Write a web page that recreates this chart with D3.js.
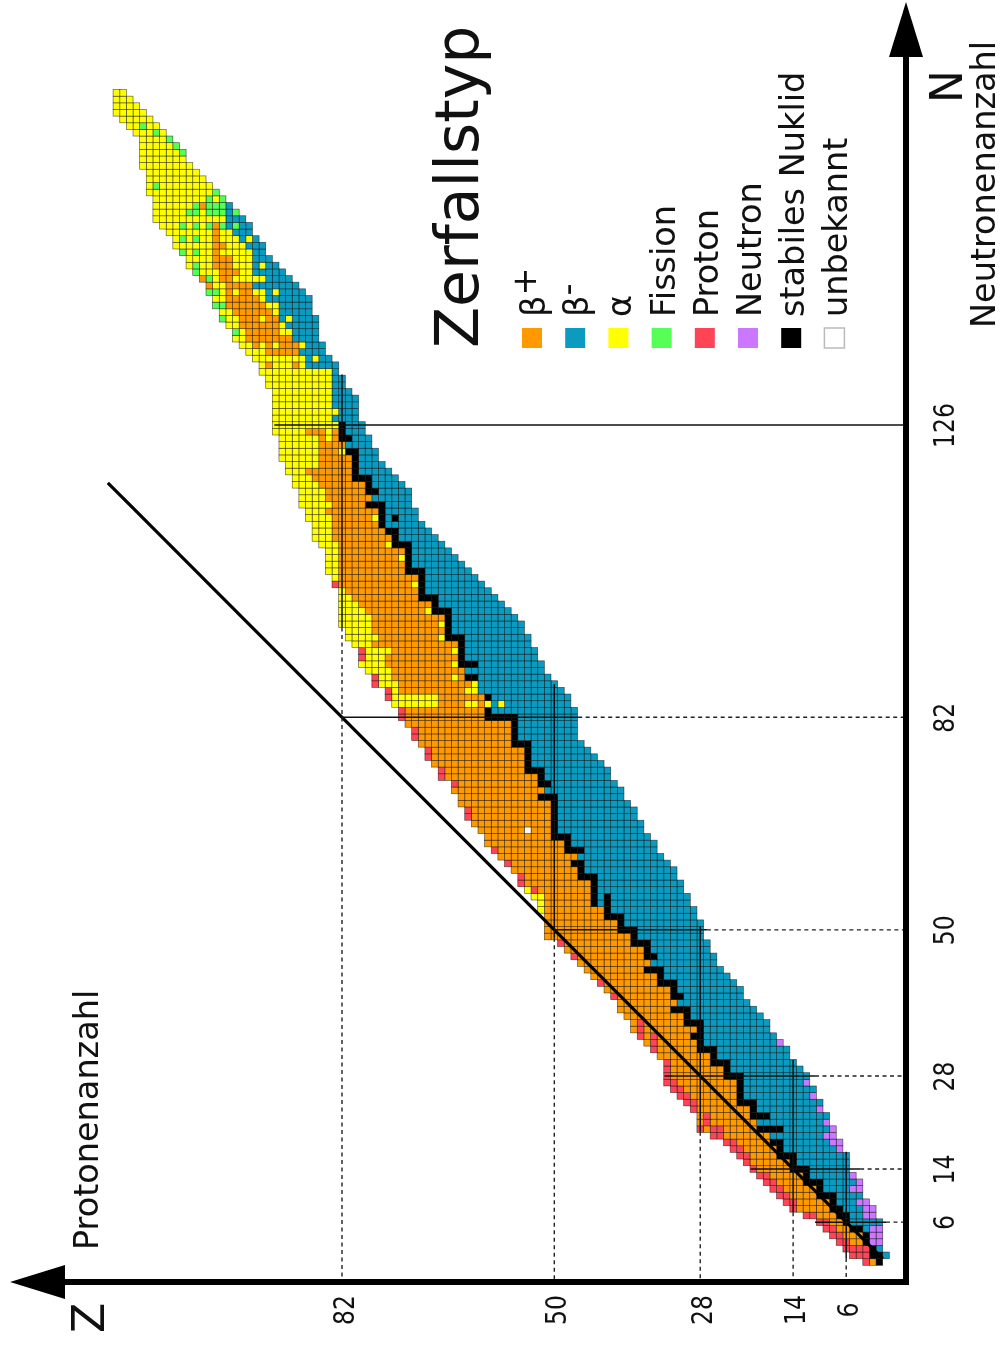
<!DOCTYPE html>
<html>
<head>
<meta charset="utf-8">
<title>Zerfallstyp</title>
<script src="https://cdn.jsdelivr.net/npm/d3@7/dist/d3.min.js"></script>
<style>
html, body { margin: 0; padding: 0; background: #fff; }
svg { display: block; filter: blur(0.45px); }
text { font-family: "DejaVu Sans", sans-serif; fill: #111; }
</style>
</head>
<body>
<script>
//lowest proton number in each row, index = neutron number
var zLow = [
    1,0,1,1,1,1,1,2,2,3,
    4,4,4,5,6,6,6,7,7,8,
    8,9,9,10,10,11,11,12,12,13,
    14,15,15,16,17,18,18,19,20,21,
    22,22,23,24,25,26,26,27,27,28,
    28,28,29,29,30,30,31,31,32,32,
    33,34,35,35,36,37,37,38,38,39,
    40,40,41,42,42,43,44,45,46,47,
    47,47,47,47,48,48,49,50,51,52,
    52,53,53,54,54,55,55,56,57,58,
    59,60,61,62,63,64,65,66,67,68,
    69,70,71,71,72,72,72,73,74,75,
    76,77,77,78,78,79,79,80,80,80,
    80,81,82,82,83,83,84,85,85,86,
    86,86,86,87,87,87,88,89,90,91,
    92,93,94,94,95,96,96,97,98,99,
    100,101,102,103,104,105,106,106,107,108,
    109,110,111,112,113,114,115
];
//highest proton number in each row
var zHigh = [
    3,5,6,7,8,9,10,12,14,15,
    16,17,18,19,20,21,22,23,24,26,
    28,28,28,29,30,31,32,33,33,33,
    33,34,35,36,37,38,38,39,40,40,
    41,42,43,44,45,46,47,48,49,51,
    51,51,51,52,52,53,54,55,55,56,
    57,58,59,60,60,61,62,63,63,64,
    64,65,65,67,67,68,69,69,70,71,
    71,72,73,73,74,75,75,77,77,78,
    79,79,79,80,81,81,82,82,82,82,
    82,82,83,83,84,84,84,84,85,86,
    86,86,87,87,88,88,88,89,89,90,
    90,91,91,91,91,92,92,92,92,92,
    92,92,93,93,94,94,95,96,97,98,
    98,99,100,100,101,101,102,102,103,104,
    105,105,106,107,107,108,109,110,110,110,
    110,111,111,111,111,112,112,112,112,112,
    113,114,115,116,116,116,116
];
//highest proton number that decays by beta minus in each row
var betaMinusTop = [
    0,0,1,2,2,3,5,5,6,7,
    7,9,9,11,11,13,13,15,15,17,
    15,19,17,19,19,21,21,21,21,23,
    23,25,25,27,27,27,27,29,29,31,
    30,31,31,33,33,35,34,35,35,37,
    37,39,39,41,43,43,43,43,43,45,
    45,46,45,47,47,49,49,49,49,49,
    49,51,50,51,51,53,53,53,53,55,
    55,55,55,59,59,59,61,61,61,63,
    61,63,63,63,63,65,65,65,65,67,
    67,69,69,69,69,71,71,71,71,73,
    73,75,75,75,75,77,76,77,77,79,
    79,79,79,81,80,81,81,83,83,83,
    83,83,83,83,83,87,87,89,89,89,
    89,90,91,91,91,93,93,95,93,95,
    95,95,95,96,97,98,99,99,99,99,
    0,0,0,0,0,0,0,0,0,0,
    0,0,0,0,0,0,0
];
//[N, lowest Z of the alpha band], band runs up to zHigh
var alphaEdge = [
    [84,68],[85,68],[86,74],[87,74],[88,75],[89,75],[90,76],[91,76],[92,76],[93,78],
    [94,77],[95,78],[96,78],[97,78],[98,79],[99,80],[100,81],[101,82],[102,83],[103,83],
    [104,83],[105,83],[106,83],[107,83],[108,83],[109,84],[110,84],[111,84],[112,84],[113,85],
    [114,84],[115,85],[116,85],[117,86],[118,87],[119,88],[120,86],[121,86],[122,86],[123,86],
    [124,86],[125,88],[126,83]
];
//from this row on everything above the beta minus part is alpha
var alphaAllFrom = 127;
//single alpha nuclides, [N, Z]
var alphaSpots = [
    [53,52],[54,52],[55,52],[55,53],[56,54],[84,58],[84,60],[84,62],[84,63],[86,62],
    [86,63],[87,62],[88,63],[88,65],[90,65],[92,65],[92,75],[94,67],[96,67],[98,69],
    [102,71],[106,73],[108,75],[110,75],[112,77],[122,82],[124,84],[125,84],[128,83],[136,86],
    [138,88],[138,92],[142,90],[146,92],[148,94],[148,95],[150,94],[154,96]
];
//[N, Zfrom, Zto]
var betaPlusRuns = [
    [135,89,89],[135,93,93],[137,89,93],[138,89,91],[138,93,93],[138,95,95],[139,90,96],[140,92,96],
    [141,92,97],[142,92,93],[142,95,97],[143,93,98],[144,94,99],[145,95,99],[146,96,97],[146,99,99],
    [147,96,99],[147,102,102],[148,99,100],[148,103,103],[149,98,100],[150,99,101],[151,99,101],
    [152,101,101],[153,100,101],[154,101,101],[155,101,101],[156,101,101],[159,103,103]
];
//[N, Z]
var fissionCells = [
    [140,98],[142,100],[144,100],[144,101],[146,101],[146,102],[148,102],[149,104],[150,104],[152,104],
    [152,106],[154,104],[154,106],[156,98],[156,100],[156,102],[156,104],[156,106],[158,98],[158,100],
    [158,101],[158,102],[158,104],[158,105],[159,100],[159,101],[159,102],[159,104],[160,100],[160,102],
    [161,101],[162,110],[167,106],[168,107],[169,108],[170,110],[171,112]
];
//[N, Zfrom, Zto]
var protonRuns = [
    [0,3,3],[1,3,5],[2,3,6],[3,6,7],[4,7,8],[5,8,9],[6,9,10],[7,11,12],[8,14,14],[9,14,15],
    [10,15,16],[11,16,17],[12,17,18],[13,18,19],[14,20,20],[15,21,21],[16,21,22],[17,22,23],[18,23,24],
    [19,25,26],[20,25,26],[20,28,28],[21,27,27],[22,27,27],[23,29,29],[24,29,30],[25,30,31],[26,31,32],
    [27,32,33],[28,33,33],[29,33,33],[30,33,33],[32,35,35],[33,35,35],[34,35,35],[34,37,37],[35,37,37],
    [36,37,37],[40,41,41],[42,43,43],[46,47,47],[48,49,49],[56,53,53],[57,55,55],[58,55,55],[60,57,57],
    [62,59,59],[67,63,63],[68,63,63],[72,65,65],[73,67,67],[74,67,67],[76,69,69],[77,69,69],[79,71,71],
    [80,71,71],[82,73,73],[83,73,73],[85,75,75],[86,75,75],[87,77,77],[88,77,77],[91,79,79],[92,79,79],
    [102,83,83]
];
//[N, Zfrom, Zto]
var neutronRuns = [
    [3,1,2],[4,1,2],[5,1,2],[7,2,3],[8,2,3],[9,3,4],[11,4,5],[12,4,4],[13,5,5],[17,7,7],
    [18,7,8],[19,8,9],[20,8,8],[21,9,9],[23,10,10],[25,11,11],[27,12,12],[33,16,16]
];
//[N, Zfrom, Zto]
var stableRuns = [
    [0,1,1],[1,1,2],[2,2,2],[3,3,3],[4,3,3],[5,4,5],[6,6,6],[7,6,7],[8,7,8],[9,8,8],
    [10,8,10],[11,10,10],[12,10,12],[13,12,12],[14,12,14],[15,14,14],[16,14,16],[17,16,16],[18,16,17],
    [20,16,19],[22,18,20],[23,20,20],[24,20,22],[25,22,22],[26,22,22],[27,22,22],[28,22,24],[29,24,24],
    [30,24,26],[31,26,26],[32,26,28],[33,28,28],[34,28,29],[35,28,28],[36,28,30],[37,30,30],[38,30,32],
    [40,31,32],[41,32,32],[42,32,34],[43,34,34],[44,34,36],[46,35,36],[47,36,36],[48,36,38],[49,38,38],
    [50,38,40],[51,40,40],[52,40,42],[53,42,42],[54,42,42],[54,44,44],[55,42,42],[55,44,44],[56,44,44],
    [57,44,44],[58,44,46],[59,46,46],[60,46,47],[62,46,48],[63,48,48],[64,48,50],[65,50,50],[66,50,50],
    [67,50,50],[68,50,50],[69,50,50],[70,50,52],[72,51,52],[73,52,52],[74,52,54],[75,54,54],[76,54,54],
    [77,54,54],[78,54,56],[79,56,56],[80,56,56],[81,56,56],[82,56,60],[83,60,60],[85,60,60],[88,62,63],
    [90,62,64],[91,64,64],[92,64,64],[93,64,64],[94,64,66],[95,66,66],[96,66,66],[97,66,66],[98,66,68],
    [99,68,68],[100,68,70],[101,70,70],[102,70,70],[103,70,70],[104,70,72],[105,72,72],[106,72,72],
    [107,72,72],[108,72,74],[109,74,74],[110,74,75],[111,76,76],[112,74,74],[112,76,76],[113,76,76],
    [114,76,78],[116,77,78],[117,78,78],[118,78,80],[119,80,80],[120,80,80],[121,80,80],[122,80,81],
    [124,81,82],[125,82,82],[126,82,82]
];
var unknownCells = [[65,54]];

//magic numbers and the stretch where their line is solid
var magicN = [6,14,28,50,82,126];
var magicNFrom = [10.7,20.4,33.4,50,82,92.2];
var magicNTo = [0,3.9,10.7,27,46.4,0];
var magicZ = [6,14,28,50,82];
var magicZFrom = [0.6,7.5,19.6,48.8,95.5];
var magicZTo = [16.6,30.4,50.5,87,133.6];

var legendLabels = ["β+","β-","α","Fission","Proton","Neutron","stabiles Nuklid","unbekannt"];
var legendColors = ["#ff9900","#0b9bc0","#ffff00","#55ff55","#ff4455","#cc77ff","#000000","#ffffff"];

window.onload = setChart();

function setChart(){

    var width = 1003,
        height = 1345;

    var svg = d3.select("body")
        .append("svg")
        .attr("width", width)
        .attr("height", height);

    //Z runs to the left, N runs up
    var zScale = d3.scaleLinear().domain([0, 82]).range([886, 342]);
    var nScale = d3.scaleLinear().domain([0, 126]).range([1262, 425]);
    var cellW = Math.abs(zScale(1) - zScale(0)),
        cellH = Math.abs(nScale(1) - nScale(0));

    //build the cells row by row, later writes replace earlier ones
    var cells = new Map();
    function put(n, z, type){
        if (z >= zLow[n] && z <= zHigh[n]) cells.set(n + "_" + z, {n: n, z: z, type: type});
    }
    var alphaLookup = new Map(alphaEdge);
    zLow.forEach(function(low, n){
        for (var z = low; z <= zHigh[n]; z++){
            var type = z <= betaMinusTop[n] ? 1 : 0;
            if (type == 0 && (n >= alphaAllFrom || (alphaLookup.has(n) && z >= alphaLookup.get(n)))) type = 2;
            put(n, z, type);
        }
    });
    function putRuns(runs, type){
        runs.forEach(function(r){
            for (var z = r[1]; z <= r[2]; z++) put(r[0], z, type);
        });
    }
    alphaSpots.forEach(function(c){ put(c[0], c[1], 2); });
    putRuns(betaPlusRuns, 0);
    fissionCells.forEach(function(c){ put(c[0], c[1], 3); });
    putRuns(protonRuns, 4);
    putRuns(neutronRuns, 5);
    putRuns(stableRuns, 6);
    unknownCells.forEach(function(c){ put(c[0], c[1], 7); });

    svg.append("g")
        .selectAll("rect")
        .data(Array.from(cells.values()))
        .enter()
        .append("rect")
        .attr("x", function(d){ return zScale(d.z) - cellW / 2; })
        .attr("y", function(d){ return nScale(d.n) - cellH / 2; })
        .attr("width", cellW)
        .attr("height", cellH)
        .attr("fill", function(d){ return legendColors[d.type]; })
        .attr("stroke", "#000")
        .attr("stroke-opacity", 0.6)
        .attr("stroke-width", 0.7);

    //N = Z diagonal
    svg.append("line")
        .attr("x1", zScale(117.3)).attr("y1", nScale(117.3))
        .attr("x2", zScale(0.5)).attr("y2", nScale(0.5))
        .attr("stroke", "#000")
        .attr("stroke-width", 3.2);

    var axisX = 906,
        axisY = 1282;

    //magic number lines, solid through the band and dashed out to the axis
    magicN.forEach(function(m, i){
        svg.append("line")
            .attr("x1", zScale(magicNFrom[i])).attr("x2", i == 5 ? axisX : zScale(magicNTo[i]))
            .attr("y1", nScale(m)).attr("y2", nScale(m))
            .attr("stroke", "#111").attr("stroke-width", 1.5);
        if (i < 5) svg.append("line")
            .attr("x1", zScale(magicNTo[i])).attr("x2", axisX)
            .attr("y1", nScale(m)).attr("y2", nScale(m))
            .attr("stroke", "#222").attr("stroke-width", 1.4)
            .attr("stroke-dasharray", "4,3.5");
    });
    magicZ.forEach(function(m, i){
        svg.append("line")
            .attr("y1", nScale(magicZFrom[i])).attr("y2", nScale(magicZTo[i]))
            .attr("x1", zScale(m)).attr("x2", zScale(m))
            .attr("stroke", "#111").attr("stroke-width", 1.5);
        svg.append("line")
            .attr("y1", nScale(magicZFrom[i])).attr("y2", axisY)
            .attr("x1", zScale(m)).attr("x2", zScale(m))
            .attr("stroke", "#222").attr("stroke-width", 1.4)
            .attr("stroke-dasharray", "4,3.5");
    });

    //tick labels through d3 axes, turned to match the sideways sheet
    var nAxis = d3.axisRight(nScale).tickValues(magicN).tickSize(0).tickPadding(0);
    svg.append("g").attr("transform", "translate(954,0)").call(nAxis)
        .call(function(g){ g.select(".domain").remove(); })
        .selectAll("text")
        .attr("x", 0).attr("dy", 0)
        .attr("transform", "rotate(-90) scale(1,1.2)")
        .attr("text-anchor", "middle")
        .style("font-family", "'DejaVu Sans', sans-serif")
        .style("font-size", "23.5px");
    var zAxis = d3.axisBottom(zScale).tickValues(magicZ).tickSize(0).tickPadding(0);
    svg.append("g").attr("transform", "translate(0,1310)").call(zAxis)
        .call(function(g){ g.select(".domain").remove(); })
        .selectAll("text")
        .attr("y", 0).attr("dy", 0)
        .attr("transform", "rotate(-90) translate(0,11) scale(1,1.2)")
        .attr("text-anchor", "middle")
        .style("font-family", "'DejaVu Sans', sans-serif")
        .style("font-size", "23.5px");

    //main axes and arrow heads
    svg.append("path")
        .attr("d", "M" + axisX + "," + (axisY + 3) + "V50")
        .attr("fill", "none").attr("stroke", "#000").attr("stroke-width", 6);
    svg.append("path")
        .attr("d", "M" + (axisX + 3) + "," + axisY + "H60")
        .attr("fill", "none").attr("stroke", "#000").attr("stroke-width", 6);
    svg.append("path").attr("d", "M906,2L889,57H923Z").attr("fill", "#000");
    svg.append("path").attr("d", "M10,1282L65,1265V1299Z").attr("fill", "#000");

    //sideways text
    function sideText(x, y, str, size){
        return svg.append("text")
            .attr("transform", "translate(" + x + "," + y + ") rotate(-90)")
            .style("font-size", size + "px")
            .text(str);
    }
    sideText(98, 1250, "Protonenanzahl", 33.5);
    sideText(104, 1333, "Z", 44);
    sideText(962, 103, "N", 44);
    sideText(994.5, 328, "Neutronenanzahl", 33.5);
    sideText(478, 348, "Zerfallstyp", 60);

    //legend
    legendLabels.forEach(function(label, i){
        var cx = 532 + i * 43.2;
        svg.append("rect")
            .attr("x", cx - 10).attr("y", 328)
            .attr("width", 20).attr("height", 20)
            .attr("fill", legendColors[i])
            .attr("stroke", i == 7 ? "#bbb" : "none")
            .attr("stroke-width", 1.5);
        var t = sideText(cx + 13, 317, label.charAt(1) == "+" || label.charAt(1) == "-" ? label.charAt(0) : label, 33.5);
        if (t.text() != label){
            t.append("tspan").attr("dy", -9).text(label.charAt(1));
        }
    });
}
</script>
</body>
</html>
